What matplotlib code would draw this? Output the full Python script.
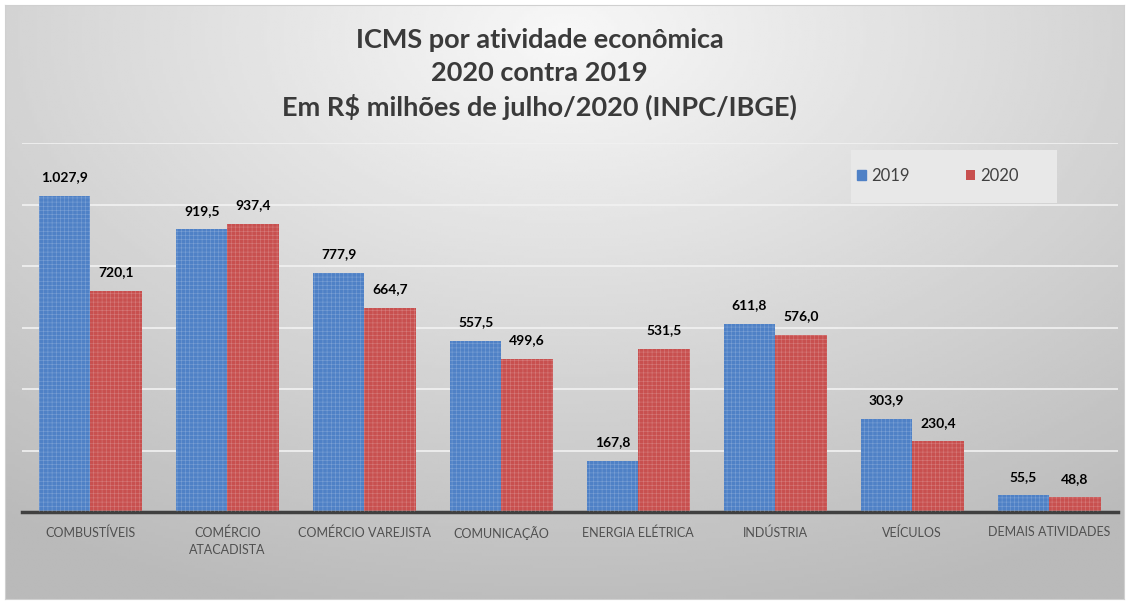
import numpy as np
import matplotlib
matplotlib.use("Agg")
from matplotlib import pyplot as plt
from matplotlib.patches import Rectangle

categorias = ["COMBUSTÍVEIS", "COMÉRCIO\nATACADISTA", "COMÉRCIO VAREJISTA", "COMUNICAÇÃO",
              "ENERGIA ELÉTRICA", "INDÚSTRIA", "VEÍCULOS", "DEMAIS ATIVIDADES"]
v2019 = [1027.9, 919.5, 777.9, 557.5, 167.8, 611.8, 303.9, 55.5]
v2020 = [720.1, 937.4, 664.7, 499.6, 531.5, 576.0, 230.4, 48.8]

def fmt(v):
	s = "{:,.1f}".format(v)
	return s.replace(",", "X").replace(".", ",").replace("X", ".")

plt.rcParams['font.family'] = ['Lato', 'DejaVu Sans']
plt.rcParams['hatch.linewidth'] = 0.4

fig = plt.figure(figsize=(11.29, 6.04), dpi=100)
fig.patch.set_facecolor("white")

# fundo em degradê
bg = fig.add_axes([0.004, 0.008, 0.992, 0.984])
yy, xx = np.mgrid[0:1:200j, 0:1:400j]
d = np.sqrt(((xx - 0.5) / 0.85) ** 2 + ((yy - 0.05) / 1.0) ** 2)
bg.imshow(0.97 - 0.24 * np.clip(d, 0, 1), cmap="gray", vmin=0, vmax=1, aspect="auto", extent=[0, 1, 1, 0])
bg.set_xticks([]); bg.set_yticks([])
for s in bg.spines.values():
	s.set_color("#d0d0d0")

ax = fig.add_axes([0.0195, 0.152, 0.9705, 0.611])
ax.patch.set_alpha(0)
x = np.arange(len(categorias))
w = 0.376
blue = "#4f81c6"
red = "#c8504f"
for vals, off, c in [(v2019, -w / 2, blue), (v2020, w / 2, red)]:
	ax.bar(x + off, vals, w, color=c, linewidth=0, zorder=2)
	ax.bar(x + off, vals, w, color="none", edgecolor=(1, 1, 1, 0.25), hatch="++++", linewidth=0, zorder=3)
	for xi, v in zip(x + off, vals):
		ax.annotate(fmt(v), (xi, v), xytext=(0, 9), textcoords="offset points",
			ha="center", va="bottom", fontsize=10, fontweight="bold", color="black")

ax.set_xlim(-0.5, len(categorias) - 0.5)
ax.set_ylim(0, 1200)
ax.set_yticks(range(200, 1201, 200))
ax.yaxis.grid(True, color="#f2f2f2", linewidth=1.2, zorder=0)
ax.tick_params(axis="y", length=0, labelleft=False)
ax.set_xticks(x)
ax.set_xticklabels(categorias, fontsize=9, color="#505050", linespacing=1.5)
ax.tick_params(axis="x", length=0, pad=10)
for s in ["top", "right", "left"]:
	ax.spines[s].set_visible(False)
ax.spines["bottom"].set_color("#404040")
ax.spines["bottom"].set_linewidth(2.5)

# caixa da legenda
ax.add_patch(Rectangle((0.757, 0.837), 0.188, 0.144, transform=ax.transAxes,
	facecolor="#e8e8e8", edgecolor="none", zorder=4))
leg = ax.legend(["2019", "2020"], loc="center left", bbox_to_anchor=(0.762, 0.911),
	ncol=2, frameon=False, fontsize=12, columnspacing=3.4, handlelength=0.55, handleheight=0.55,
	handletextpad=0.3, borderpad=0, borderaxespad=0, labelcolor="#404040")
leg.set_zorder(5)
for h, c in zip(leg.legend_handles, [blue, red]):
	h.set_color(c)

fig.text(0.478, 0.953, "ICMS por atividade econômica\n2020 contra 2019\nEm R$ milhões de julho/2020 (INPC/IBGE)",
	ha="center", va="top", fontsize=19.5, fontweight="bold", color="#3a3a3a", linespacing=1.42)

plt.savefig("out.png", dpi=100)
